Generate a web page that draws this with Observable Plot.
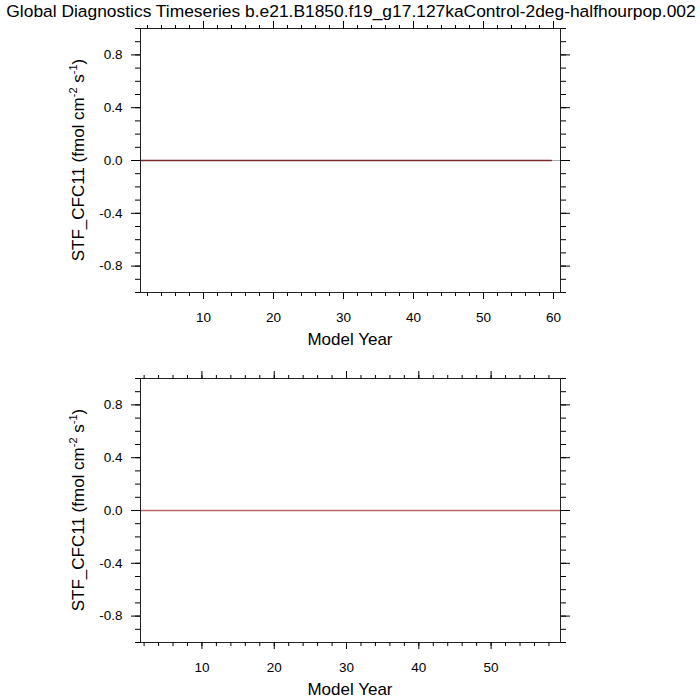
<!DOCTYPE html>
<html>
<head>
<meta charset="utf-8">
<script src="https://cdn.jsdelivr.net/npm/d3@7"></script>
<script src="https://cdn.jsdelivr.net/npm/@observablehq/plot@0.6"></script>
<style>
  body { margin: 0; background: #fff; }
  #chart { width: 700px; height: 700px; position: relative; background: #fff; }
  #chart svg { display: block; }
  #chart svg g[aria-label$="tick label"] text { font-size: 13.5px !important; font-family: 'Liberation Sans', Arial, Helvetica, sans-serif !important; }
</style>
</head>
<body>
<div id="chart"></div>
<script>
// ---------- data ----------
const titleText = "Global Diagnostics Timeseries b.e21.B1850.f19_g17.127kaControl-2deg-halfhourpop.002";
const xLabelText = "Model Year";
const yLabelMain = "STF_CFC11 (fmol cm";
const yLabelSup1 = "-2";
const yLabelMid = " s";
const yLabelSup2 = "-1";
const yLabelEnd = ")";

const yMajorTicks = [-0.8, -0.4, 0.0, 0.4, 0.8];
const yMinorTicks = [-1.0, -0.9, -0.8, -0.7, -0.6, -0.5, -0.4, -0.3, -0.2, -0.1, 0.0, 0.1, 0.2, 0.3, 0.4, 0.5, 0.6, 0.7, 0.8, 0.9, 1.0];

const topXMajor = [10, 20, 30, 40, 50, 60];
const topXMinor = [2, 4, 6, 8, 10, 12, 14, 16, 18, 20, 22, 24, 26, 28, 30, 32, 34, 36, 38, 40, 42, 44, 46, 48, 50, 52, 54, 56, 58, 60];
const botXMajor = [10, 20, 30, 40, 50];
const botXMinor = [2, 4, 6, 8, 10, 12, 14, 16, 18, 20, 22, 24, 26, 28, 30, 32, 34, 36, 38, 40, 42, 44, 46, 48, 50, 52, 54, 56, 58];

const topYears = [1, 2, 3, 4, 5, 6, 7, 8, 9, 10, 11, 12, 13, 14, 15, 16, 17, 18, 19, 20,
  21, 22, 23, 24, 25, 26, 27, 28, 29, 30, 31, 32, 33, 34, 35, 36, 37, 38, 39, 40,
  41, 42, 43, 44, 45, 46, 47, 48, 49, 50, 51, 52, 53, 54, 55, 56, 57, 58, 59, 59.7];
const topValues = [0, 0, 0, 0, 0, 0, 0, 0, 0, 0, 0, 0, 0, 0, 0, 0, 0, 0, 0, 0,
  0, 0, 0, 0, 0, 0, 0, 0, 0, 0, 0, 0, 0, 0, 0, 0, 0, 0, 0, 0,
  0, 0, 0, 0, 0, 0, 0, 0, 0, 0, 0, 0, 0, 0, 0, 0, 0, 0, 0, 0];

const botYears = [1.5, 2.5, 3.5, 4.5, 5.5, 6.5, 7.5, 8.5, 9.5, 10.5, 11.5, 12.5, 13.5, 14.5, 15.5, 16.5, 17.5, 18.5, 19.5, 20.5,
  21.5, 22.5, 23.5, 24.5, 25.5, 26.5, 27.5, 28.5, 29.5, 30.5, 31.5, 32.5, 33.5, 34.5, 35.5, 36.5, 37.5, 38.5, 39.5, 40.5,
  41.5, 42.5, 43.5, 44.5, 45.5, 46.5, 47.5, 48.5, 49.5, 50.5, 51.5, 52.5, 53.5, 54.5, 55.5, 56.5, 57.5, 58.5, 59.6];
const botValues = [0, 0, 0, 0, 0, 0, 0, 0, 0, 0, 0, 0, 0, 0, 0, 0, 0, 0, 0, 0,
  0, 0, 0, 0, 0, 0, 0, 0, 0, 0, 0, 0, 0, 0, 0, 0, 0, 0, 0, 0,
  0, 0, 0, 0, 0, 0, 0, 0, 0, 0, 0, 0, 0, 0, 0, 0, 0, 0, 0];

const topXDomain = [1, 61];
const botXDomain = [1.5, 59.6];
const yDomain = [-1, 1];

// ---------- styles ----------
const FONT = "'Liberation Sans', Arial, Helvetica, sans-serif";
const topColor = "#7b2d2d";
const botColor = "#b86464";
const TICK_FONT = 13.5;

function panel(years, values, xDomain, xMajor, xMinor, color) {
  const data = years.map((x, i) => ({ year: x, value: values[i] }));
  const svg = Plot.plot({
    width: 700,
    height: 350,
    marginLeft: 140,
    marginRight: 140,
    marginTop: 28,
    marginBottom: 58,
    style: { fontFamily: FONT, fontSize: TICK_FONT + "px", background: "white", overflow: "visible", color: "black" },
    x: { domain: xDomain, label: null },
    y: { domain: yDomain, label: null },
    marks: [
      Plot.ruleY([0], { stroke: "#aaa", strokeWidth: 1 }),
      Plot.line(data, { x: "year", y: "value", stroke: color, strokeWidth: 1.3 }),
      Plot.frame({ stroke: "#222" }),
      Plot.axisX({ anchor: "bottom", ticks: xMajor, tickSize: 7, tickPadding: 13, tickFormat: d => String(d), label: null, fontSize: TICK_FONT }),
      Plot.axisX({ anchor: "bottom", ticks: xMinor, tickSize: 4, tickFormat: () => "", label: null }),
      Plot.axisX({ anchor: "top", ticks: xMajor, tickSize: 8, tickFormat: () => "", label: null }),
      Plot.axisX({ anchor: "top", ticks: xMinor, tickSize: 4, tickFormat: () => "", label: null }),
      Plot.axisY({ anchor: "left", ticks: yMajorTicks, tickSize: 9, tickPadding: 9, tickFormat: d => d.toFixed(1), label: null, fontSize: TICK_FONT }),
      Plot.axisY({ anchor: "left", ticks: yMinorTicks, tickSize: 5, tickFormat: () => "", label: null }),
      Plot.axisY({ anchor: "right", ticks: yMajorTicks, tickSize: 9, tickFormat: () => "", label: null }),
      Plot.axisY({ anchor: "right", ticks: yMinorTicks, tickSize: 5, tickFormat: () => "", label: null })
    ]
  });
  const s = d3.select(svg);
  s.selectAll('g[aria-label$="tick label"]').attr("font-size", TICK_FONT).style("font-size", TICK_FONT + "px");
  s.append("text")
    .attr("x", 350).attr("y", 345)
    .attr("text-anchor", "middle")
    .attr("font-family", FONT).attr("font-size", 17).attr("fill", "black")
    .text(xLabelText);
  const t = s.append("text")
    .attr("transform", "translate(78,160) rotate(-90)")
    .attr("text-anchor", "middle")
    .attr("dy", "0.35em")
    .attr("font-family", FONT).attr("font-size", 17).attr("fill", "black");
  t.append("tspan").text(yLabelMain);
  t.append("tspan").attr("font-size", 11).attr("dy", -7).text(yLabelSup1);
  t.append("tspan").attr("dy", 7).text(yLabelMid);
  t.append("tspan").attr("font-size", 11).attr("dy", -7).text(yLabelSup2);
  t.append("tspan").attr("dy", 7).text(yLabelEnd);
  return svg;
}

const chartEl = document.getElementById("chart");
const topPanel = panel(topYears, topValues, topXDomain, topXMajor, topXMinor, topColor);
d3.select(topPanel).append("text")
  .attr("x", 351).attr("y", 16.5)
  .attr("text-anchor", "middle")
  .attr("font-family", FONT).attr("font-size", 17.4).attr("fill", "black")
  .text(titleText);
chartEl.appendChild(topPanel);
chartEl.appendChild(panel(botYears, botValues, botXDomain, botXMajor, botXMinor, botColor));
</script>
</body>
</html>
